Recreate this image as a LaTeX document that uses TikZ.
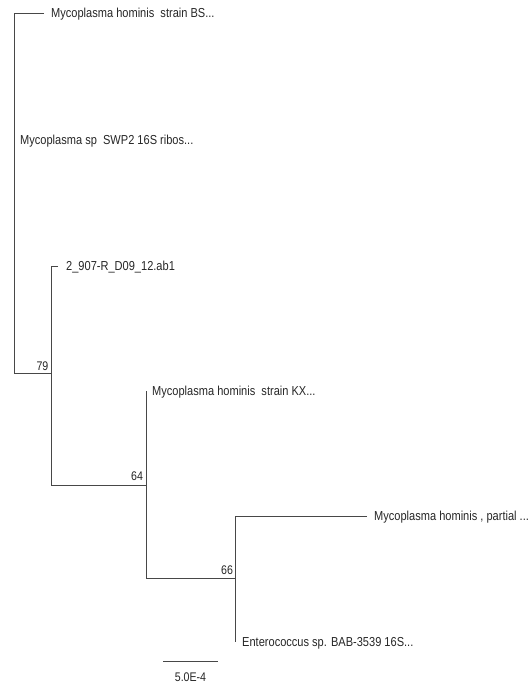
\documentclass[tikz,border=0pt]{standalone}
\usepackage{fontspec}
\newfontfamily\labfont[FakeStretch=0.85]{Liberation Sans}
\begin{document}
\begin{tikzpicture}[x=1pt,y=-1pt,
  branch/.style={draw=black!72, line width=0.9pt},
  leaf/.style={anchor=base west, inner sep=0pt, font=\labfont\fontsize{13}{15}\selectfont, text=black!85},
  boot/.style={anchor=center, inner sep=0pt, font=\labfont\fontsize{12.5}{14}\selectfont, text=black!85}]
\useasboundingbox (0,0) rectangle (528,687);
% internal coordinates
\coordinate (rtop) at (14,13);
\coordinate (root) at (14,373);
\coordinate (t1) at (44,13);
\coordinate (n79) at (51,373);
\coordinate (n79top) at (51,266);
\coordinate (n79bot) at (51,485);
\coordinate (t3) at (58,266);
\coordinate (n64) at (146,485);
\coordinate (n64top) at (146,391);
\coordinate (n64bot) at (146,578);
\coordinate (n66) at (235,578);
\coordinate (n66top) at (235,516);
\coordinate (n66bot) at (235,642);
\coordinate (t5) at (367,516);
\coordinate (sb1) at (163,661);
\coordinate (sb2) at (218,661);
% branches
\draw[branch] (t1) -- (rtop) -- (root) -- (n79);
\draw[branch] (t3) -- (n79top) -- (n79bot) -- (n64);
\draw[branch] (n64top) -- (n64bot) -- (n66);
\draw[branch] (t5) -- (n66top) -- (n66bot);
\draw[branch] (sb1) -- (sb2);
% leaf labels
\node[leaf] (l1) at (51,17.6) {Mycoplasma hominis\ \ strain BS...};
\node[leaf] (l2) at (20,144.6) {Mycoplasma sp\ \ SWP2 16S ribos...};
\node[leaf] (l3) at (66,270.6) {2\_907-R\_D09\_12.ab1};
\node[leaf] (l4) at (152,395.6) {Mycoplasma hominis\ \ strain KX...};
\node[leaf] (l5) at (374,520.6) {Mycoplasma hominis , partial ...};
\node[leaf] (l6) at (242,646.6) {Enterococcus sp. BAB-3539 16S...};
% bootstrap values
\node[boot] (b79) at (42.5,366) {79};
\node[boot] (b64) at (137,476) {64};
\node[boot] (b66) at (227,570) {66};
% scale
\node[boot] (sbl) at (190.5,677) {5.0E-4};
\end{tikzpicture}
\end{document}
